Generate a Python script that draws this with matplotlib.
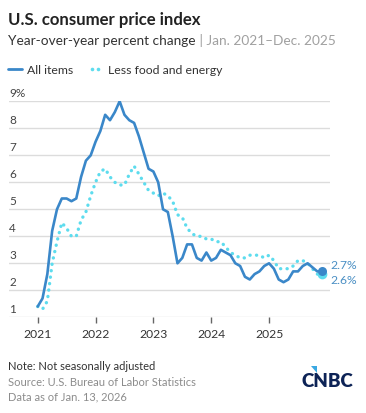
import pandas as pd
import matplotlib
matplotlib.use("Agg")
import matplotlib.pyplot as plt
from matplotlib.patches import Polygon

plt.rcParams['font.family'] = ['Lato', 'DejaVu Sans']

# Mesi da gen 2021 a dic 2025 (ott 2025 non pubblicato)
months = pd.date_range("2021-01-01", "2025-12-01", freq="MS")
months = months[months != pd.Timestamp("2025-10-01")]

all_items = [1.4, 1.7, 2.6, 4.2, 5.0, 5.4, 5.4, 5.3, 5.4, 6.2, 6.8, 7.0,
             7.5, 7.9, 8.5, 8.3, 8.6, 9.0, 8.5, 8.3, 8.2, 7.7, 7.1, 6.5,
             6.4, 6.0, 5.0, 4.9, 4.0, 3.0, 3.2, 3.7, 3.7, 3.2, 3.1, 3.4,
             3.1, 3.2, 3.5, 3.4, 3.3, 3.0, 2.9, 2.5, 2.4, 2.6, 2.7, 2.9,
             3.0, 2.8, 2.4, 2.3, 2.4, 2.7, 2.7, 2.9, 3.0, 2.7, 2.7]
core = [1.4, 1.3, 1.6, 3.0, 3.8, 4.5, 4.3, 4.0, 4.0, 4.6, 4.9, 5.5,
        6.0, 6.4, 6.5, 6.2, 6.0, 5.9, 5.9, 6.3, 6.6, 6.3, 6.0, 5.7,
        5.6, 5.5, 5.6, 5.5, 5.3, 4.8, 4.7, 4.3, 4.1, 4.0, 4.0, 3.9,
        3.9, 3.8, 3.8, 3.6, 3.4, 3.3, 3.2, 3.2, 3.3, 3.3, 3.3, 3.2,
        3.3, 3.1, 2.8, 2.8, 2.8, 2.9, 3.1, 3.1, 3.0, 2.6, 2.6]
years = [2021, 2022, 2023, 2024, 2025]
y_ticks = [1, 2, 3, 4, 5, 6, 7, 8, 9]

BLUE = "#3a87c9"
CYAN = "#5ddcee"

x = [(d.year - 2021) * 12 + d.month - 1 for d in months]

fig = plt.figure(figsize=(3.66, 4.14), dpi=100)
W, H = 366, 414
ax = fig.add_axes([9 / W, (H - 318.3) / H, (330 - 9) / W, 216 / H])

ax.plot(x, core, color=CYAN, lw=2.4, linestyle=(0, (0.05, 1.9)),
        dash_capstyle="round", zorder=3)
ax.plot(x, all_items, color=BLUE, lw=1.9, solid_joinstyle="round",
        solid_capstyle="round", zorder=4)
ax.plot(x[-1], core[-1], "o", color=CYAN, ms=7, mec="none", zorder=5)
ax.plot(x[-1], all_items[-1], "o", color=BLUE, ms=6.5, mec="none", zorder=6)

# Etichette finali
ax.text(x[-1] + 1.8, all_items[-1] + 0.27, f"{all_items[-1]}%", color="#4a8fc4",
        fontsize=8.7, va="center", ha="left", clip_on=False)
ax.text(x[-1] + 1.8, core[-1] - 0.2, f"{core[-1]}%", color="#4a8fc4",
        fontsize=8.7, va="center", ha="left", clip_on=False)

x_left = (9 - 37.7) / 4.82
ax.set_xlim(x_left, (330 - 37.7) / 4.82)
ax.set_ylim(1, 9)
for v in y_ticks:
    ax.axhline(v, color="#dcdcdc", lw=1, zorder=1)
    lab = f"{v}%" if v == 9 else str(v)
    ax.text(x_left, v + 0.12, lab, fontsize=8.5, color="#444444",
            ha="left", va="bottom", clip_on=False)

for s in ax.spines.values():
    s.set_visible(False)
ax.set_yticks([])
ax.set_xticks([(yr - 2021) * 12 for yr in years])
ax.set_xticklabels([str(yr) for yr in years])
ax.tick_params(axis="x", length=4, width=1, color="#666666", labelsize=8.7,
               labelcolor="#333333", pad=4)

# Titoli
fig.text(8 / W, 1 - 25 / H, "U.S. consumer price index", fontsize=12.1,
         fontweight="bold", color="#222222")
sub = fig.text(8 / W, 1 - 45 / H, "Year-over-year percent change", fontsize=9.8,
               color="#333333")
ax.annotate(" | Jan. 2021\u2013Dec. 2025", xy=(1, 0), xycoords=sub,
            fontsize=9.8, color="#a0a0a0", va="bottom", ha="left")

# Legenda
fig.add_artist(plt.Line2D([8 / W, 22 / W], [1 - 70 / H] * 2, color=BLUE, lw=2.0,
                          solid_capstyle="round"))
fig.text(27 / W, 1 - 70 / H, "All items", fontsize=8.8, color="#333333", va="center")
fig.add_artist(plt.Line2D([92 / W, 98 / W], [1 - 70 / H] * 2, color=CYAN, lw=0,
                          marker="o", ms=2.6, mec="none"))
fig.text(108 / W, 1 - 70 / H, "Less food and energy", fontsize=8.8,
         color="#333333", va="center")

# Note
fig.text(8 / W, 1 - 370 / H, "Note: Not seasonally adjusted", fontsize=8.0,
         color="#333333")
fig.text(8 / W, 1 - 386 / H, "Source: U.S. Bureau of Labor Statistics", fontsize=8.0,
         color="#8c8c8c")
fig.text(8 / W, 1 - 400 / H, "Data as of Jan. 13, 2026", fontsize=8.0,
         color="#8c8c8c")

# Logo CNBC
fig.text(302 / W, 1 - 387 / H, "CNBC", fontsize=13.5, fontweight="heavy",
         color="#0d2356")
fig.add_artist(Polygon([[310.5 / W, 1 - 367 / H], [316.5 / W, 1 - 367 / H],
                        [316.5 / W, 1 - 374 / H]], closed=True,
                       transform=fig.transFigure, color="#3aa8e2", lw=0))

fig.savefig("out.png", dpi=100)
